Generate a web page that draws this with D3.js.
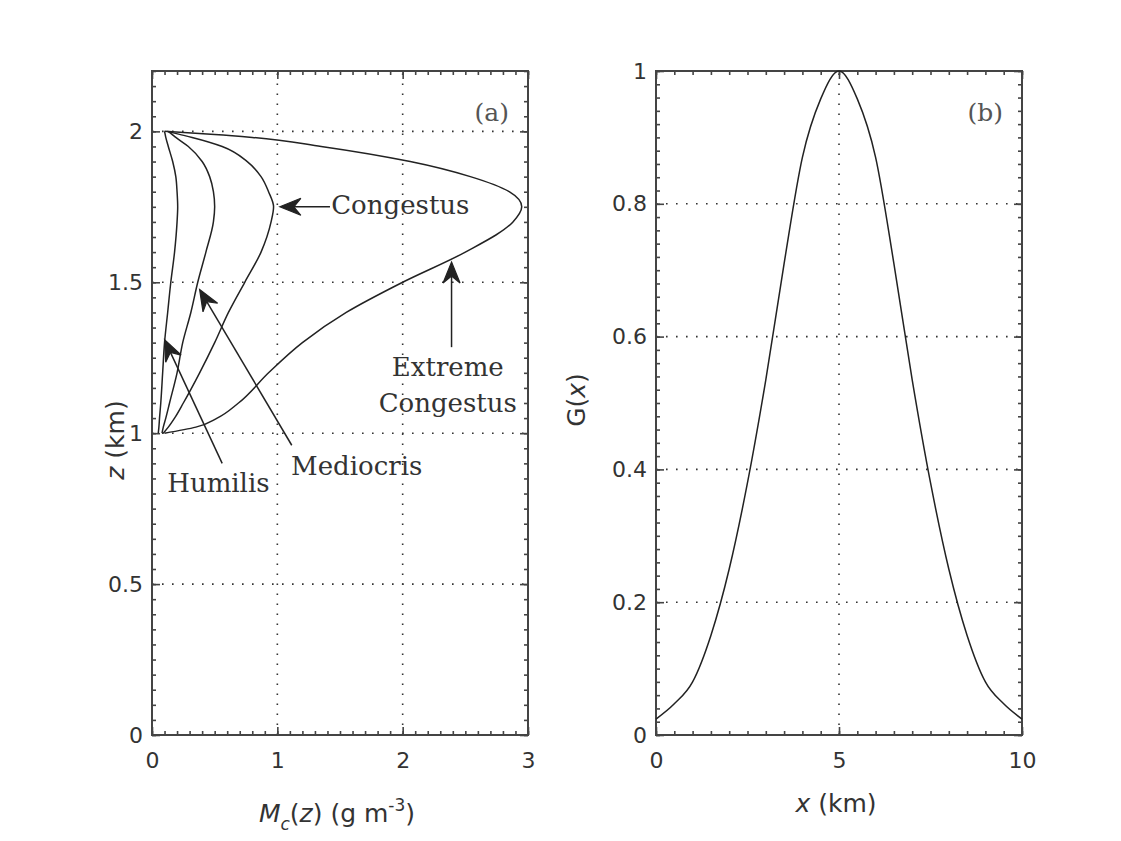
<!DOCTYPE html>
<html><head><meta charset="utf-8">
<script src="https://cdn.jsdelivr.net/npm/d3@7"></script>
<style>
body{margin:0;background:#fff}
.tick text{font-family:"DejaVu Sans",sans-serif;font-size:22px;fill:#333}
</style>
</head><body><svg id="chart" width="1121" height="841"></svg>
<script>
// ---------- data: panel (a) ----------
const zLevels   = [1.00, 1.02, 1.05, 1.10, 1.20, 1.30, 1.40, 1.50, 1.60, 1.70, 1.75, 1.80, 1.85, 1.90, 1.95, 1.98, 1.99, 2.00];
const humilis   = [0.05, 0.055,0.06, 0.07, 0.085,0.10, 0.125,0.15, 0.18, 0.20, 0.205,0.20, 0.19, 0.165,0.13, 0.11, 0.105,0.10];
const mediocris = [0.08, 0.09, 0.11, 0.14, 0.20, 0.245,0.31, 0.365,0.43, 0.49, 0.50, 0.49, 0.46, 0.40, 0.29, 0.19, 0.16, 0.13];
const congestus = [0.09, 0.13, 0.18, 0.25, 0.38, 0.50, 0.61, 0.74, 0.87, 0.95, 0.97, 0.93, 0.87, 0.76, 0.56, 0.32, 0.22, 0.12];
const extreme   = [0.10, 0.35, 0.52, 0.69, 0.93, 1.20, 1.55, 2.00, 2.50, 2.88, 2.95, 2.85, 2.54, 2.06, 1.35, 0.80, 0.50, 0.10];
const aSeriesNames = ["Humilis", "Mediocris", "Congestus", "Extreme Congestus"];
const aXTicks = [0, 1, 2, 3];
const aYTicks = [0, 0.5, 1, 1.5, 2];
// annotations
const annLabels = [["Humilis"], ["Mediocris"], ["Congestus"], ["Extreme", "Congestus"]];
const annTextM  = [0.53, 1.11, 1.43, 2.36];
const annTextZ  = [0.805, 0.86, 1.725, 1.19];
const annTailM  = [0.56, 1.115, 1.42, 2.39];
const annTailZ  = [0.90, 0.96, 1.75, 1.285];
const annTipM   = [0.10, 0.38, 1.02, 2.39];
const annTipZ   = [1.31, 1.476, 1.75, 1.567];
const annAnchor = ["middle", "start", "start", "middle"];

// ---------- data: panel (b) ----------
const gX     = [0, 0.5, 1, 1.5, 2, 2.5, 3, 3.5, 4, 4.5, 5, 5.5, 6, 6.5, 7, 7.5, 8, 8.5, 9, 9.5, 10];
const gValue = [0.024,0.047,0.08,0.15,0.25,0.38,0.535,0.71,0.87,0.958,1.0,0.958,0.87,0.71,0.535,0.38,0.25,0.15,0.08,0.047,0.024];
const bXTicks = [0, 5, 10];
const bYTicks = [0, 0.2, 0.4, 0.6, 0.8, 1];

const svg = d3.select("#chart");
svg.append("rect").attr("width",1121).attr("height",841).attr("fill","#fff");

const ink = "#222", frameCol = "#444", gridCol = "#333";

function panel(x, y, xMajor, yMajor, xMinorStep, yMinorStep, label) {
  const g = svg.append("g");
  const [x0, x1] = x.range(), [y0, y1] = y.range();
  const xd = x.domain(), yd = y.domain();
  xMajor.filter(v => v > xd[0] && v < xd[1]).forEach(v => {
    g.append("line").attr("x1", x(v)).attr("x2", x(v)).attr("y1", y0).attr("y2", y1)
      .attr("stroke", gridCol).attr("stroke-width", 1.6).attr("stroke-dasharray", "1.6,8.4");
  });
  yMajor.filter(v => v > yd[0] && v < yd[1]).forEach(v => {
    g.append("line").attr("x1", x0).attr("x2", x1).attr("y1", y(v)).attr("y2", y(v))
      .attr("stroke", gridCol).attr("stroke-width", 1.6).attr("stroke-dasharray", "1.6,8.4");
  });
  const xMinor = d3.range(xd[0], xd[1] + 1e-9, xMinorStep);
  const yMinor = d3.range(yd[0], yd[1] + 1e-9, yMinorStep);
  const styleAxis = a => { a.select(".domain").remove(); a.selectAll(".tick line").attr("stroke", frameCol).attr("stroke-width", 1.6); };
  g.append("g").attr("transform", `translate(0,${y0})`).call(d3.axisBottom(x).tickValues(xMinor).tickSize(-4).tickFormat("")).call(styleAxis);
  g.append("g").attr("transform", `translate(0,${y1})`).call(d3.axisTop(x).tickValues(xMinor).tickSize(-4).tickFormat("")).call(styleAxis);
  g.append("g").attr("transform", `translate(${x0},0)`).call(d3.axisLeft(y).tickValues(yMinor).tickSize(-4).tickFormat("")).call(styleAxis);
  g.append("g").attr("transform", `translate(${x1},0)`).call(d3.axisRight(y).tickValues(yMinor).tickSize(-4).tickFormat("")).call(styleAxis);
  g.append("g").attr("transform", `translate(0,${y0})`).call(d3.axisBottom(x).tickValues(xMajor).tickSize(-8).tickPadding(17).tickFormat(d3.format("~g"))).call(styleAxis);
  g.append("g").attr("transform", `translate(0,${y1})`).call(d3.axisTop(x).tickValues(xMajor).tickSize(-8).tickFormat("")).call(styleAxis);
  g.append("g").attr("transform", `translate(${x0},0)`).call(d3.axisLeft(y).tickValues(yMajor).tickSize(-8).tickPadding(9).tickFormat(d3.format("~g"))).call(styleAxis);
  g.append("g").attr("transform", `translate(${x1},0)`).call(d3.axisRight(y).tickValues(yMajor).tickSize(-8).tickFormat("")).call(styleAxis);
  g.append("rect").attr("x", x0).attr("y", y1).attr("width", x1 - x0).attr("height", y0 - y1)
    .attr("fill", "none").attr("stroke", frameCol).attr("stroke-width", 2);
  g.append("text").attr("x", x1 - 19).attr("y", y1 + 50).attr("text-anchor", "end")
    .attr("font-family", "DejaVu Serif, serif").attr("font-size", 25).attr("fill", "#555").text(label);
  return g;
}

// ---------- panel (a) ----------
const xa = d3.scaleLinear().domain([0, 3]).range([152, 528]);
const ya = d3.scaleLinear().domain([0, 2.2]).range([735, 71]);
const ga = panel(xa, ya, aXTicks, aYTicks, 0.1, 0.05, "(a)");

const lineA = d3.line().x(d => xa(d[0])).y(d => ya(d[1])).curve(d3.curveMonotoneY);
[humilis, mediocris, congestus, extreme].forEach((s, i) => {
  ga.append("path").datum(s.map((m, k) => [m, zLevels[k]]))
    .attr("class", "series").attr("data-name", aSeriesNames[i])
    .attr("d", lineA).attr("fill", "none").attr("stroke", ink).attr("stroke-width", 1.5);
});

function arrow(g, tailX, tailY, tipX, tipY) {
  const dx = tipX - tailX, dy = tipY - tailY, L = Math.hypot(dx, dy);
  const ux = dx / L, uy = dy / L, px = -uy, py = ux;
  const len = 21, hw = 8.5, notch = 14;
  g.append("line").attr("x1", tailX).attr("y1", tailY).attr("x2", tipX - ux * notch).attr("y2", tipY - uy * notch)
    .attr("stroke", ink).attr("stroke-width", 1.5);
  const pts = [[tipX, tipY],
    [tipX - ux * len + px * hw, tipY - uy * len + py * hw],
    [tipX - ux * notch, tipY - uy * notch],
    [tipX - ux * len - px * hw, tipY - uy * len - py * hw]];
  g.append("path").attr("d", "M" + pts.map(p => p.join(",")).join("L") + "Z").attr("fill", ink).attr("stroke", ink).attr("stroke-width", 1.2);
}
annLabels.forEach((lines, i) => {
  arrow(ga, xa(annTailM[i]), ya(annTailZ[i]), xa(annTipM[i]), ya(annTipZ[i]));
  const t = ga.append("text").attr("x", xa(annTextM[i])).attr("y", ya(annTextZ[i]))
    .attr("text-anchor", annAnchor[i]).attr("font-family", "DejaVu Serif, serif").attr("font-size", 26).attr("fill", "#333");
  lines.forEach((ln, k) => t.append("tspan").attr("x", xa(annTextM[i])).attr("dy", k === 0 ? 0 : 36).text(ln));
});

// axis labels (a)
const mcLabel = svg.append("text").attr("x", 337).attr("y", 822).attr("text-anchor", "middle")
  .attr("font-family", "DejaVu Sans, sans-serif").attr("font-size", 25).attr("fill", "#333");
mcLabel.append("tspan").attr("font-style", "italic").text("M");
mcLabel.append("tspan").attr("font-style", "italic").attr("font-size", 17).attr("dy", 8).text("c");
mcLabel.append("tspan").attr("dy", -8).text("(");
mcLabel.append("tspan").attr("font-style", "italic").text("z");
mcLabel.append("tspan").text(") (g m");
mcLabel.append("tspan").attr("font-size", 17).attr("dy", -11).text("-3");
mcLabel.append("tspan").attr("dy", 11).text(")");

const zLabel = svg.append("text").attr("transform", "translate(124,440) rotate(-90)").attr("text-anchor", "middle")
  .attr("font-family", "DejaVu Sans, sans-serif").attr("font-size", 25).attr("fill", "#333");
zLabel.append("tspan").attr("font-style", "italic").text("z");
zLabel.append("tspan").text(" (km)");

// ---------- panel (b) ----------
const xb = d3.scaleLinear().domain([0, 10]).range([656, 1022]);
const yb = d3.scaleLinear().domain([0, 1]).range([735, 71]);
const gb = panel(xb, yb, bXTicks, bYTicks, 0.5, 0.02, "(b)");
const lineB = d3.line().x((d, i) => xb(gX[i])).y(d => yb(d)).curve(d3.curveMonotoneX);
gb.append("path").datum(gValue).attr("class", "series").attr("data-name", "G(x)")
  .attr("d", lineB).attr("fill", "none").attr("stroke", ink).attr("stroke-width", 1.5);

const xLabelB = svg.append("text").attr("x", 836).attr("y", 812).attr("text-anchor", "middle")
  .attr("font-family", "DejaVu Sans, sans-serif").attr("font-size", 25).attr("fill", "#333");
xLabelB.append("tspan").attr("font-style", "italic").text("x");
xLabelB.append("tspan").text(" (km)");

const gLabel = svg.append("text").attr("transform", "translate(585,400) rotate(-90)").attr("text-anchor", "middle")
  .attr("font-family", "DejaVu Sans, sans-serif").attr("font-size", 25).attr("fill", "#333");
gLabel.append("tspan").text("G(");
gLabel.append("tspan").attr("font-style", "italic").text("x");
gLabel.append("tspan").text(")");
</script>
</body></html>
